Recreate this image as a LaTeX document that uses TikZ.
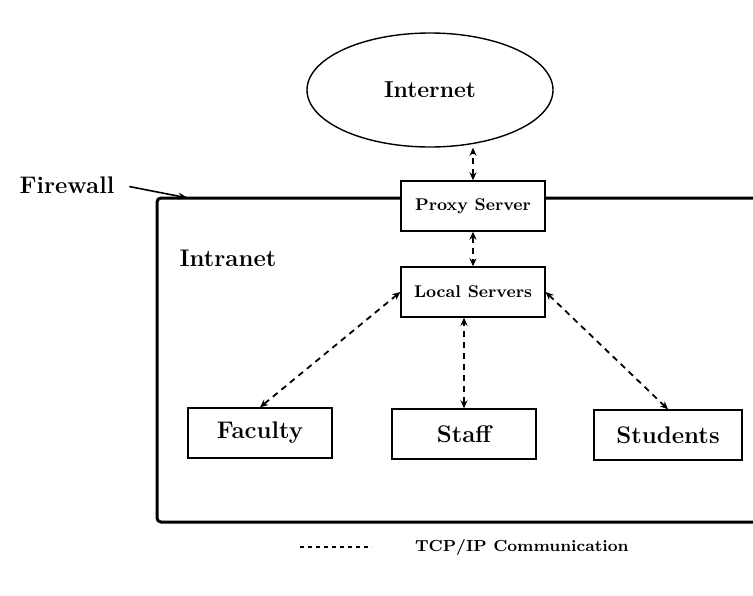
\documentclass[tikz,border=0pt]{standalone}
\usetikzlibrary{arrows.meta,shapes.geometric}
\begin{document}
\begin{tikzpicture}[x=0.5pt,y=-0.5pt,
    box/.style={draw,fill=white,line width=0.7pt,font=\bfseries\fontsize{12}{14}\selectfont,
      minimum width=72pt,minimum height=25pt},
    srvbox/.style={box,font=\bfseries\fontsize{8.5}{10}\selectfont},
    link/.style={{Stealth[length=4pt,width=3.5pt]}-{Stealth[length=4pt,width=3.5pt]},
      line width=0.9pt,dash pattern=on 3pt off 2.5pt},
    bigtext/.style={font=\bfseries\fontsize{12}{14}\selectfont}]
    \useasboundingbox (0,0) rectangle (753,595);

    % Firewall boundary
    \draw[line width=1.5pt,rounded corners=2pt] (753,198) -- (157,198) -- (157,522) -- (753,522);

    % Internet
    \node[ellipse,draw,line width=0.7pt,minimum width=123pt,minimum height=57pt,
      font=\bfseries\fontsize{11.5}{14}\selectfont] (inet) at (430,90) {Internet};

    % Labels
    \node[bigtext] (fw) at (67,185) {Firewall};
    \coordinate (fwedge) at (188,198);
    \draw[-{Stealth[length=5pt,width=3.5pt]},line width=0.8pt,shorten <=4pt] (fw.east) -- (fwedge);
    \node[bigtext] (intra) at (228,258) {Intranet};

    % Servers
    \node[srvbox] (proxy) at (473,206) {Proxy Server};
    \node[srvbox] (lsrv) at (473,292) {Local Servers};

    % Users
    \node[box] (fac) at (260,433) {Faculty};
    \node[box] (staff) at (464,434) {Staff};
    \node[box,minimum width=74pt] (stud) at (668,435) {Students};

    % Links
    \draw[link] (proxy.north) -- (proxy.north |- inet.south);
    \draw[link] (proxy.south) -- (lsrv.north);
    \draw[link] (lsrv.west) -- (fac.north);
    \draw[link] (staff.north) -- (staff.north |- lsrv.south);
    \draw[link] (lsrv.east) -- (stud.north);

    % Legend
    \coordinate (legA) at (300,547);
    \coordinate (legB) at (372,547);
    \draw[line width=0.6pt,dash pattern=on 2pt off 2pt] (legA) -- (legB);
    \node[font=\bfseries\fontsize{8}{10}\selectfont,anchor=west] (legtxt) at (408,547) {TCP/IP Communication};
\end{tikzpicture}
\end{document}
